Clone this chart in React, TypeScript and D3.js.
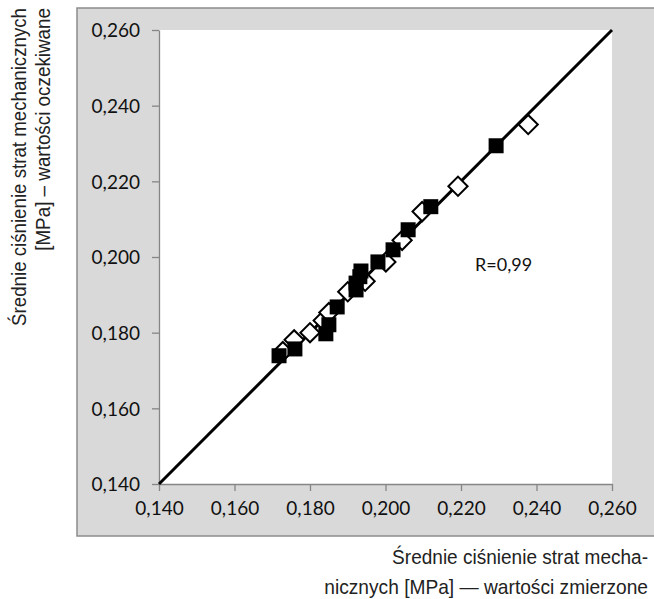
import React, { useEffect, useRef } from 'react';
import * as d3 from 'd3';

// ==== data

const tickValues = [0.14, 0.16, 0.18, 0.2, 0.22, 0.24, 0.26];

// measured (filled squares)
const measuredX = [0.1718, 0.176, 0.1842, 0.185, 0.1872, 0.1922, 0.1922, 0.1935, 0.1932, 0.198, 0.202, 0.206, 0.212, 0.2293];
const measuredY = [0.1739, 0.1757, 0.1797, 0.1821, 0.1868, 0.1913, 0.1931, 0.1963, 0.1948, 0.1987, 0.2019, 0.2072, 0.2133, 0.2294];

// expected (open diamonds)
const expectedX = [0.1728, 0.1758, 0.18, 0.1835, 0.185, 0.19, 0.1946, 0.2001, 0.2044, 0.2097, 0.2192, 0.2378];
const expectedY = [0.175, 0.1781, 0.18, 0.1832, 0.1853, 0.1908, 0.1936, 0.1987, 0.2044, 0.212, 0.2187, 0.235];

const rLabel = 'R=0,99';
const yTitle = ['Średnie ciśnienie strat mechanicznych', '[MPa] – wartości oczekiwane'];
const xTitle = ['Średnie ciśnienie strat mecha-', 'nicznych [MPa] — wartości zmierzone'];

// ====

const W = 654;
const H = 599;
const plot = { left: 159, right: 612, top: 30, bottom: 484 };
const tickFont = "Lato, 'Open Sans', sans-serif";
const titleFont = "'Liberation Sans', Arial, sans-serif";

const fmt = (d: number) => d.toFixed(3).replace('.', ',');

// squeeze a text horizontally to a given width (narrow font look)
function fitText(g: any, str: string, x: number, y: number, width: number) {
    const t = g.append('text').attr('text-anchor', 'end').text(str);
    const natural = (t.node() as SVGTextElement).getComputedTextLength();
    const k = Math.min(1, width / natural);
    t.attr('transform', `translate(${x},${y}) scale(${k},1)`);
    return t;
}

export default function App() {
    const ref = useRef<SVGSVGElement | null>(null);

    useEffect(() => {
        const svg = d3.select(ref.current);
        svg.selectAll('*').remove();

        const x = d3.scaleLinear().domain([0.14, 0.26]).range([plot.left, plot.right]);
        const y = d3.scaleLinear().domain([0.14, 0.26]).range([plot.bottom, plot.top]);

        // outer grey frame
        svg.append('rect')
            .attr('x', 77).attr('y', 8)
            .attr('width', W + 10 - 77).attr('height', 536 - 8)
            .attr('fill', '#d9d9d9')
            .attr('stroke', '#8c8c8c')
            .attr('stroke-width', 1.5);

        // plot area
        svg.append('rect')
            .attr('x', plot.left).attr('y', plot.top)
            .attr('width', plot.right - plot.left).attr('height', plot.bottom - plot.top)
            .attr('fill', '#ffffff');

        const yAxis = svg.append('g')
            .attr('transform', `translate(${plot.left},0)`)
            .call(d3.axisLeft(y).tickValues(tickValues).tickSize(7).tickSizeOuter(0).tickFormat((d) => fmt(+d)));

        const xAxis = svg.append('g')
            .attr('transform', `translate(0,${plot.bottom})`)
            .call(d3.axisBottom(x).tickValues(tickValues).tickSize(7).tickSizeOuter(0).tickFormat((d) => fmt(+d)));

        [yAxis, xAxis].forEach((g) => {
            g.selectAll('path, line').attr('stroke', '#868686').attr('stroke-width', 1.3);
            g.selectAll('text')
                .attr('fill', '#111')
                .style('font-family', tickFont)
                .style('font-size', '19px');
        });
        yAxis.selectAll('text').attr('x', -19).attr('dy', '0.36em');
        xAxis.selectAll('text').attr('y', 18).attr('dy', '0.71em');

        // 1:1 line
        svg.append('line')
            .attr('x1', x(0.14)).attr('y1', y(0.14))
            .attr('x2', x(0.26)).attr('y2', y(0.26))
            .attr('stroke', '#000')
            .attr('stroke-width', 3);

        // open diamonds
        const diamond = d3.symbol().type(d3.symbolSquare).size(185);
        svg.append('g')
            .selectAll('path')
            .data(d3.range(expectedX.length))
            .enter()
            .append('path')
            .attr('d', diamond)
            .attr('transform', (i) => `translate(${x(expectedX[i])},${y(expectedY[i])}) rotate(45)`)
            .attr('fill', '#fff')
            .attr('stroke', '#000')
            .attr('stroke-width', 2);

        // filled squares
        const side = 15;
        svg.append('g')
            .selectAll('rect')
            .data(d3.range(measuredX.length))
            .enter()
            .append('rect')
            .attr('x', (i) => x(measuredX[i]) - side / 2)
            .attr('y', (i) => y(measuredY[i]) - side / 2)
            .attr('width', side)
            .attr('height', side)
            .attr('fill', '#000');

        svg.append('text')
            .attr('x', 475).attr('y', 271)
            .style('font-family', tickFont)
            .style('font-size', '18px')
            .attr('fill', '#111')
            .text(rLabel);

        // axis titles
        const yt = svg.append('g').attr('transform', 'rotate(-90)')
            .style('font-family', titleFont)
            .style('font-size', '21px')
            .attr('fill', '#222');
        fitText(yt, yTitle[0], -8, 26, 318);
        fitText(yt, yTitle[1], -8, 50, 243);

        const xt = svg.append('g')
            .style('font-family', titleFont)
            .style('font-size', '21px')
            .attr('fill', '#222');
        fitText(xt, xTitle[0], 648, 564, 256);
        fitText(xt, xTitle[1], 648, 594, 324);
    }, []);

    return (
        <svg
            ref={ref}
            width={W}
            height={H}
            style={{ position: 'absolute', left: 0, top: 0, background: '#fff' }}
        />
    );
}
